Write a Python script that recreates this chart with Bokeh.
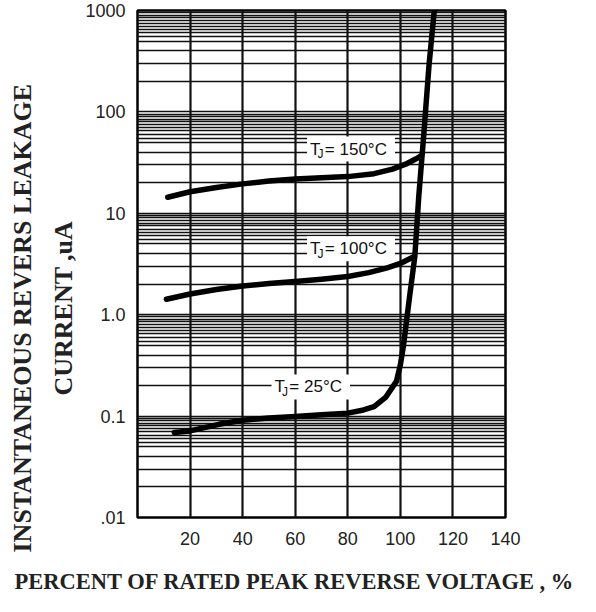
from bokeh.plotting import figure
from bokeh.models import FixedTicker, Label, Title
from bokeh.embed import file_html
from bokeh.resources import INLINE

# ---- data ----
x_ticks = [20, 40, 60, 80, 100, 120, 140]
x_grid_vals = [0, 20, 40, 60, 80, 100, 120, 140]
y_ticks = [0.01, 0.1, 1, 10, 100, 1000]
y_tick_labels = [".01", "0.1", "1.0", "10", "100", "1000"]
y_minor_mult = [1, 2, 3, 4, 5, 5.5, 6, 6.5, 7, 7.5, 8, 8.5, 9, 9.5]

x150 = [11.5, 20, 30, 40, 50, 60, 70, 80, 90, 97, 102, 106, 108]
y150 = [14.4, 16.3, 18.0, 19.5, 20.8, 21.8, 22.4, 23.0, 24.6, 27.3, 30.5, 34.5, 37]

x100 = [11, 20, 30, 40, 50, 60, 70, 80, 88, 95, 100, 103, 105.3]
y100 = [1.42, 1.60, 1.77, 1.92, 2.03, 2.12, 2.24, 2.38, 2.6, 2.9, 3.2, 3.5, 3.75]

x25 = [14, 20, 31, 40, 50, 60, 70, 80, 86, 90, 94.5, 98.5, 100, 101.2, 103.5, 105.5, 107, 109, 110.9, 112.9]
y25 = [0.069, 0.0714, 0.083, 0.091, 0.096, 0.099, 0.103, 0.107, 0.115, 0.124, 0.154, 0.22, 0.32, 0.5, 1.5, 3.75, 14.6, 64, 288, 1000]

curve_labels = ["150°C", "100°C", "25°C"]

y_title_1 = "INSTANTANEOUS REVERS LEAKAGE"
y_title_2 = "CURRENT ,uA"
x_title = "PERCENT OF RATED PEAK REVERSE VOLTAGE , %"

y_grid_vals = []
for d in [0.01, 0.1, 1, 10, 100]:
    for m in y_minor_mult:
        y_grid_vals.append(round(d * m, 6))
y_grid_vals.append(1000)

p = figure(width=580, height=600, y_axis_type="log",
           x_range=(0, 140), y_range=(0.01, 1000),
           output_backend="svg", toolbar_location=None,
           min_border_left=137, min_border_right=75,
           min_border_top=10, min_border_bottom=83)

p.background_fill_color = "white"
p.border_fill_color = "white"
p.outline_line_color = "black"
p.outline_line_width = 2.5

# grids
p.xgrid.ticker = FixedTicker(ticks=x_grid_vals)
p.xgrid.grid_line_color = "#111111"
p.xgrid.grid_line_width = 2.2
p.ygrid.ticker = FixedTicker(ticks=y_grid_vals)
p.ygrid.grid_line_color = "#111111"
p.ygrid.grid_line_width = 1.3

# axes
p.xaxis.ticker = FixedTicker(ticks=x_ticks)
p.yaxis.ticker = FixedTicker(ticks=y_ticks)
p.yaxis.major_label_overrides = {t: s for t, s in zip(y_ticks, y_tick_labels)}
for ax in (p.xaxis, p.yaxis):
    ax.axis_line_color = None
    ax.major_tick_line_color = None
    ax.minor_tick_line_color = None
    ax.major_tick_out = 0
    ax.major_tick_in = 0
    ax.minor_tick_out = 0
    ax.minor_tick_in = 0
    ax.major_label_text_font = "Liberation Sans"
    ax.major_label_text_font_size = "18px"
    ax.major_label_text_color = "#222222"
p.xaxis.major_label_standoff = 14
p.yaxis.major_label_standoff = 12
# reserve a little room under the tick labels so the x title sits lower
p.xaxis.axis_label = "\u00a0"
p.xaxis.axis_label_text_font_size = "8px"
p.xaxis.axis_label_standoff = 2


def side_title(text, size, offset):
    return Title(text=text, align="left", offset=offset,
                 text_font="Liberation Serif", text_font_style="bold",
                 text_font_size=size, text_color="#222222")


p.add_layout(side_title(y_title_2, "26px", 122), "left")
p.add_layout(side_title(y_title_1, "26px", -35), "left")
p.add_layout(side_title(x_title, "22.5px", -123), "below")

# curves
for xs, ys in [(x150, y150), (x100, y100), (x25, y25)]:
    p.line(xs, ys, line_color="black", line_width=5.5,
           line_cap="round", line_join="round")

# curve annotations
label_pos = [(64.5, 43.0), (64.5, 4.48), (51.0, 0.194)]
for (lx, ly), txt in zip(label_pos, curve_labels):
    p.add_layout(Label(x=lx, y=ly, text="T  = " + txt,
                       text_font="Liberation Sans", text_font_size="17px",
                       text_align="left", text_baseline="middle",
                       text_color="#111111",
                       background_fill_color="white", padding=3))
    p.add_layout(Label(x=lx, y=ly, text="J", x_offset=10.5, y_offset=-5,
                       text_font="Liberation Sans", text_font_size="12px",
                       text_align="left", text_baseline="middle",
                       text_color="#111111"))

open("out.html", "w").write(file_html(p, INLINE))
